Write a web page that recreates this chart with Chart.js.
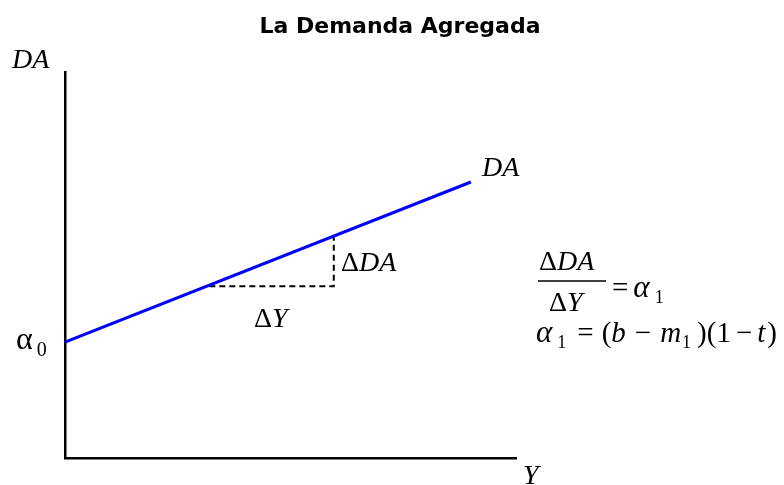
<!DOCTYPE html>
<html>
<head>
<meta charset="utf-8">
<script src="https://cdn.jsdelivr.net/npm/chart.js@4"></script>
<style>
  html, body { margin: 0; padding: 0; background: #fff; }
  #wrap { width: 784px; height: 485px; }
</style>
</head>
<body>
<div id="wrap"><canvas id="daChart" width="784" height="485"></canvas></div>
<script>
// Demanda agregada: recta DA = a0 + a1*Y
const lineY   = [0, 90];        // Y
const lineDA  = [30, 71.5];     // DA
// triangulo de pendiente (punteado)
const stepY   = [32, 59.6, 59.6];
const stepDA  = [44.5, 44.5, 57.5];

const titleText = 'La Demanda Agregada';

const serif = '"Liberation Serif", "Times New Roman", serif';
const it = s => 'italic ' + s + 'px ' + serif;
const up = s => s + 'px ' + serif;

// etiquetas: [x, y, runs]  run = [texto, fuente, dy, dx]
const labels = [
  [12, 68, [['DA', it(28)]]],
  [482, 176, [['DA', it(28)]]],
  [341, 271, [['\u0394', up(28)], ['DA', it(28)]]],
  [254, 327, [['\u0394', up(28)], ['Y', it(28)]]],
  [16, 349, [['\u03B1', up(32)], ['0', up(20), 7, 4]]],
  [539, 270, [['\u0394', up(28)], ['DA', it(28)]]],
  [549, 311, [['\u0394', up(28)], ['Y', it(28)]]],
  [612, 297, [['=', up(29)], ['\u03B1', it(31), 0, 5], ['1', up(18), 6, 5]]],
  [536, 342, [['\u03B1', it(31)], ['1', up(18), 6, 5], ['=', up(29), 0, 11], ['(', up(29), 0, 8], ['b', it(29)],
              ['\u2212', up(29), 0, 9], ['m', it(29), 0, 9], ['1', up(18), 6, 1], [')', up(29), 0, 6],
              ['(1', up(29)], ['\u2212', up(29), 0, 5], ['t', it(29), 0, 5], [')', up(29), 0, 2]]],
  [523, 484, [['Y', it(28)]]]
];

const toPts = (xs, ys) => xs.map((x, i) => ({ x: x, y: ys[i] }));

const textPlugin = {
  id: 'textos',
  afterDraw(chart) {
    const ctx = chart.ctx;
    ctx.save();
    ctx.fillStyle = '#000';
    ctx.textBaseline = 'alphabetic';
    // titulo
    ctx.font = 'bold 22px "DejaVu Sans", Verdana, sans-serif';
    ctx.textAlign = 'center';
    ctx.fillText(titleText, 400, 33);
    ctx.textAlign = 'left';
    labels.forEach(([x, y, runs]) => {
      let cx = x;
      runs.forEach(([t, f, dy, dx]) => {
        ctx.font = f;
        cx += dx || 0;
        ctx.fillText(t, cx, y + (dy || 0));
        cx += ctx.measureText(t).width;
      });
    });
    // raya de la fraccion
    ctx.strokeStyle = '#000';
    ctx.lineWidth = 1.3;
    ctx.beginPath();
    ctx.moveTo(538, 281);
    ctx.lineTo(606, 281);
    ctx.stroke();
    ctx.restore();
  }
};

new Chart(document.getElementById('daChart'), {
  type: 'scatter',
  data: {
    datasets: [
      {
        data: toPts(lineY, lineDA),
        showLine: true, borderColor: '#0000ff', borderWidth: 3,
        pointRadius: 0, fill: false
      },
      {
        data: toPts(stepY, stepDA),
        showLine: true, borderColor: '#000', borderWidth: 2, borderDash: [6, 4],
        pointRadius: 0, fill: false
      }
    ]
  },
  options: {
    responsive: false, animation: false,
    layout: { padding: { left: 57, right: 268, bottom: 19, top: 72 } },
    plugins: {
      legend: { display: false },
      tooltip: { enabled: false },
      title: { display: false }
    },
    scales: {
      x: {
        min: 0, max: 100,
        ticks: { display: false }, grid: { display: false },
        border: { display: true, color: '#000', width: 2.5 }
      },
      y: {
        min: 0, max: 100,
        ticks: { display: false }, grid: { display: false },
        border: { display: true, color: '#000', width: 2.5 }
      }
    }
  },
  plugins: [textPlugin]
});
</script>
</body>
</html>
